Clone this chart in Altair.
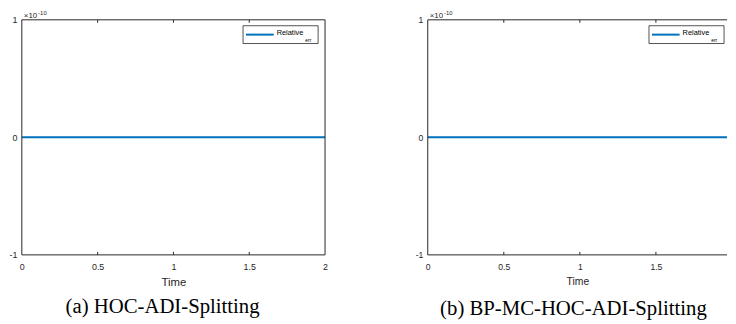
import altair as alt
import pandas as pd

# ---- data ----
time_a = [0.0, 0.25, 0.5, 0.75, 1.0, 1.25, 1.5, 1.75, 2.0]
err_a = [0.0, 0.0, 0.0, 0.0, 0.0, 0.0, 0.0, 0.0, 0.0]          # in units of 1e-10
time_b = [0.0, 0.25, 0.5, 0.75, 1.0, 1.25, 1.5, 1.75, 2.0]
err_b = [0.0, 0.0, 0.0, 0.0, 0.0, 0.0, 0.0, 0.0, 0.0]          # in units of 1e-10
x_ticks = [0, 0.5, 1, 1.5, 2]
y_ticks = [-1, 0, 1]
captions = ["(a)  HOC-ADI-Splitting", "(b)  BP-MC-HOC-ADI-Splitting"]
series_label = "Relative"
series_sub = "err"
exp_base = "\u00d710"
exp_power = "-10"

BLUE = "#0072BD"
AX = "#262626"
SANS = "Liberation Sans"
SERIF = "Liberation Serif"
H = 238


def panel(times, errs, caption, W, xmax, cap_x, cap_y, right_box, lab_fs, title_fs):
    df = pd.DataFrame({"Time": times, "Err": errs})
    ticks_in = [v for v in x_ticks if 0 < v < xmax]
    tdf = pd.DataFrame({"Time": ticks_in})
    dummy = pd.DataFrame({"d": [0]})
    xs = alt.Scale(domain=[0, xmax], nice=False, zero=False)
    ys = alt.Scale(domain=[-1, 1], nice=False, zero=False)

    line = alt.Chart(df).mark_line(color=BLUE, strokeWidth=2, clip=True).encode(
        x=alt.X("Time:Q", scale=xs,
                axis=alt.Axis(values=[v for v in x_ticks if v <= xmax], title="Time",
                              grid=False, domain=False, ticks=False,
                              labelExpr="'' + datum.value", labelPadding=8,
                              labelFontSize=lab_fs, titleFontSize=title_fs,
                              titleFontWeight="normal", titlePadding=5,
                              labelFont=SANS, titleFont=SANS,
                              labelColor=AX, titleColor=AX, labelOverlap=False,
                              labelFlush=False)),
        y=alt.Y("Err:Q", scale=ys,
                axis=alt.Axis(values=y_ticks, title=None, grid=False, domain=False,
                              ticks=False, labelExpr="'' + datum.value",
                              labelPadding=5, labelFontSize=lab_fs, labelFont=SANS,
                              labelColor=AX, labelOverlap=False, labelFlush=False)),
    )
    top_ticks = alt.Chart(tdf).mark_rule(color=AX, strokeWidth=1).encode(
        x=alt.X("Time:Q", scale=xs), y=alt.value(0), y2=alt.value(3))
    bot_ticks = alt.Chart(tdf).mark_rule(color=AX, strokeWidth=1).encode(
        x=alt.X("Time:Q", scale=xs), y=alt.value(H - 3), y2=alt.value(H))

    box = [
        alt.Chart(dummy).mark_rule(color=AX, strokeWidth=1).encode(
            x=alt.value(0), x2=alt.value(W), y=alt.value(0)),
        alt.Chart(dummy).mark_rule(color=AX, strokeWidth=1).encode(
            x=alt.value(0), x2=alt.value(W), y=alt.value(H)),
        alt.Chart(dummy).mark_rule(color=AX, strokeWidth=1).encode(
            x=alt.value(0), y=alt.value(0), y2=alt.value(H)),
    ]
    if right_box:
        box.append(alt.Chart(dummy).mark_rule(color=AX, strokeWidth=1).encode(
            x=alt.value(W), y=alt.value(0), y2=alt.value(H)))

    lx = 224
    legend = [
        alt.Chart(dummy).mark_rect(fill="white", stroke=AX, strokeWidth=0.8).encode(
            x=alt.value(lx), x2=alt.value(lx + 76), y=alt.value(6), y2=alt.value(24)),
        alt.Chart(dummy).mark_rule(color=BLUE, strokeWidth=2).encode(
            x=alt.value(lx + 3), x2=alt.value(lx + 31), y=alt.value(15)),
        alt.Chart(dummy).mark_text(align="left", baseline="middle", fontSize=7.5,
                                   font=SANS, color="#000").encode(
            x=alt.value(lx + 34), y=alt.value(13.5), text=alt.value(series_label)),
        alt.Chart(dummy).mark_text(align="left", baseline="middle", fontSize=5,
                                   font=SANS, color="#000").encode(
            x=alt.value(lx + 63), y=alt.value(20), text=alt.value(series_sub)),
    ]
    expo = [
        alt.Chart(dummy).mark_text(align="left", baseline="alphabetic", fontSize=8,
                                   font=SANS, color=AX).encode(
            x=alt.value(2), y=alt.value(-2), text=alt.value(exp_base)),
        alt.Chart(dummy).mark_text(align="left", baseline="alphabetic", fontSize=6,
                                   font=SANS, color=AX).encode(
            x=alt.value(16.5), y=alt.value(-4.5), text=alt.value(exp_power)),
    ]
    cap = alt.Chart(dummy).mark_text(align="center", baseline="alphabetic", fontSize=21,
                                     font=SERIF, color="#000").encode(
        x=alt.value(cap_x), y=alt.value(cap_y), text=alt.value(caption))

    return alt.layer(line, top_ticks, bot_ticks, *box, *legend, *expo, cap).properties(
        width=W, height=H)


left = panel(time_a, err_a, captions[0], 307, 2.0, 142.5, H + 59, True, 9, 11.5)
right = panel(time_b, err_b, captions[1], 303, 303 / 154.0, 147.5, H + 61, False, 8.7, 10.5)

chart = alt.hconcat(left, right, spacing=104, bounds="flush").properties(
    padding={"left": 0, "top": 0, "right": 0, "bottom": 0}
).configure_view(stroke="transparent")

chart.save("out.html", embed_options={"renderer": "svg", "actions": False})
